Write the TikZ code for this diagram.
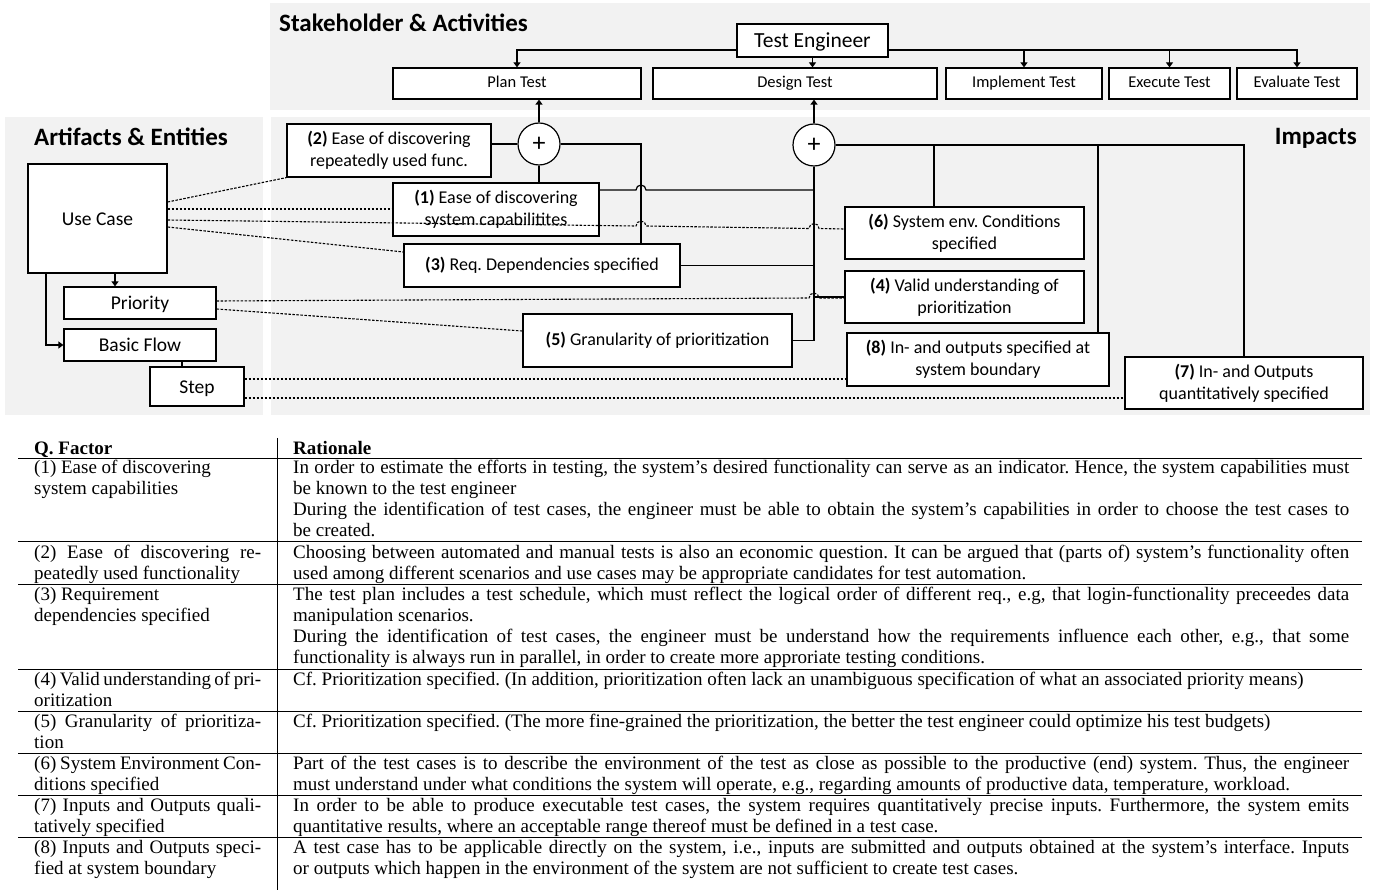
\documentclass[tikz,border=0pt]{standalone}
\usepackage{fontspec}
\setmainfont{Liberation Serif}
\newfontfamily\calibri{Carlito}
\usetikzlibrary{arrows.meta}

\definecolor{panelgray}{HTML}{F2F2F2}
\hyphenpenalty=10000
\frenchspacing

\begin{document}
\begin{tikzpicture}[
        x=1pt, y=-1pt,
        panel/.style={fill=panelgray, draw=none},
        title/.style={font=\calibri\bfseries\fontsize{25}{28}\selectfont, inner sep=0pt},
        box/.style={draw, line width=1.2pt, fill=white, align=center, inner sep=1pt},
        artbox/.style={box, text height=17pt, text depth=3pt, font=\calibri\fontsize{19.5}{22}\selectfont},
        actbox/.style={box, minimum height=31pt, text height=11pt, text depth=3pt, font=\calibri\fontsize{16.5}{20}\selectfont},
        impbox/.style={box, font=\calibri\fontsize{18}{22}\selectfont},
        plus/.style={circle, draw, line width=1.2pt, fill=white, minimum size=42pt, inner sep=0pt, font=\calibri\fontsize{26}{26}\selectfont},
        conn/.style={line width=1.2pt},
        arr/.style={conn, -{Triangle[width=7pt,length=5pt]}},
        dotline/.style={line width=1.1pt, dash pattern=on 2.5pt off 1.5pt},
        hop/.style={start angle=180, end angle=0, radius=5pt},
        tabfont/.style={font=\fontsize{19}{21.3}\selectfont},
        cellA/.style={tabfont, anchor=base west, inner sep=0pt, text width=227pt, align=justify},
        cellB/.style={tabfont, anchor=base west, inner sep=0pt, text width=1056pt, align=justify},
        rule/.style={line width=0.8pt}
    ]
        \useasboundingbox (0,0) rectangle (1374,890);

        % background panels
        \fill[panel] (270,3) rectangle (1370,110);
        \fill[panel] (5,117) rectangle (263,415);
        \fill[panel] (271,117) rectangle (1370,415);

        \node[title, anchor=west] (tstake) at (279,23) {Stakeholder \& Activities};
        \node[title] (tart) at (131,137) {Artifacts \& Entities};
        \node[title, anchor=east] (timp) at (1357,138) {Impacts};

        % stakeholder and activities
        \node[box, minimum width=151pt, minimum height=33pt, text height=18pt, text depth=3pt, font=\calibri\fontsize{21.5}{24}\selectfont] (eng) at (812.5,40.5) {Test Engineer};
        \node[actbox, minimum width=248pt] (plan) at (517,83.5) {Plan Test};
        \node[actbox, minimum width=284pt] (design) at (795,83.5) {Design Test};
        \node[actbox, minimum width=156pt] (impl) at (1024,83.5) {Implement Test};
        \node[actbox, minimum width=121pt] (exec) at (1169.5,83.5) {Execute Test};
        \node[actbox, minimum width=120pt] (eval) at (1297,83.5) {Evaluate Test};

        \draw[arr] (eng.west |- 0,50) -| (plan.north);
        \draw[arr] (eng.east |- 0,50) -| (eval.north);
        \draw[arr] (impl.north |- 0,50) -- (impl.north);
        \draw[arr] (exec.north |- 0,50) -- (exec.north);
        \draw[arr] (eng.south) -- (eng.south |- design.north);

        % artifacts
        \node[artbox, minimum width=139pt, minimum height=109pt] (uc) at (97.5,218.5) {Use Case};
        \node[artbox, minimum width=152pt, minimum height=32pt] (prio) at (140,303) {Priority};
        \node[artbox, minimum width=152pt, minimum height=32pt] (flow) at (140,345) {Basic Flow};
        \node[artbox, minimum width=94pt, minimum height=39pt] (step) at (197,386.5) {Step};

        \draw[arr] (uc.south -| 115,0) -- (prio.north -| 115,0);
        \draw[arr] (uc.south -| 46,0) |- (flow.west);
        \draw[conn] (flow.south -| 182,0) -- (step.north -| 182,0);

        % impacts
        \node[impbox, minimum width=204pt, minimum height=53pt] (q2) at (389,150.5) {\textbf{(2)} Ease of discovering\\repeatedly used func.};
        \node[impbox, minimum width=206pt, minimum height=53pt] (q1) at (496,209.5) {\textbf{(1)} Ease of discovering\\system capabilitites};
        \node[impbox, minimum width=276pt, minimum height=43pt] (q3) at (542,265.5) {\textbf{(3)} Req. Dependencies specified};
        \node[impbox, minimum width=269pt, minimum height=53pt] (q5) at (657.5,340.5) {\textbf{(5)} Granularity of prioritization};
        \node[impbox, minimum width=239pt, minimum height=52pt] (q6) at (964.5,233) {\textbf{(6)} System env. Conditions\\specified};
        \node[impbox, minimum width=239pt, minimum height=52pt] (q4) at (964.5,297) {\textbf{(4)} Valid understanding of\\prioritization};
        \node[impbox, minimum width=262pt, minimum height=53pt] (q8) at (978,359.5) {\textbf{(8)} In- and outputs specified at\\system boundary};
        \node[impbox, minimum width=238pt, minimum height=52pt] (q7) at (1244,383) {\textbf{(7)} In- and Outputs\\quantitatively specified};

        \node[plus] (c1) at (539,144) {+};
        \node[plus] (c2) at (814,145) {+};

        \draw[arr] (c1.north) -- (c1.north |- plan.south);
        \draw[arr] (c2.north) -- (c2.north |- design.south);

        \draw[conn] (q2.east |- c1.west) -- (c1.west);
        \draw[conn] (c1.south) -- (c1.south |- q1.north);
        \draw[conn] (c1.east) -| (q3.north -| 641,0);
        \draw[conn] (q1.east |- 0,190) -- (636,190) arc[hop] -- (c2.south |- 0,190);
        \draw[conn] (c2.south) |- (q5.east);
        \draw[conn] (q3.east) -- (q3.east -| c2.south);
        \draw[conn] (q4.west) -- (q4.west -| c2.south);
        \draw[conn] (c2.east) -| (q7.north);
        \draw[conn] (q6.north -| 934,0) -- (934,145);
        \draw[conn] (q8.north -| 1098,0) -- (1098,145);

        % trace links
        \draw[dotline] (uc.east |- 0,202) -- (q2.south west);
        \draw[dotline] (uc.east |- 0,209) -- (q1.west |- 0,209);
        \draw[dotline] (uc.east |- 0,220) -- (636,226) arc[hop] -- (809,228.5) arc[hop] -- (q6.west |- 0,229);
        \draw[dotline] (uc.east |- 0,227) -- (q3.west |- 0,252);
        \draw[dotline] (prio.east |- 0,301) -- (809,298) arc[hop] -- (q4.west |- 0,298);
        \draw[dotline] (prio.east |- 0,309) -- (q5.west |- 0,331);
        \draw[dotline] (step.east |- 0,379) -- (q8.west |- 0,379);
        \draw[dotline] (step.east |- 0,398) -- (q7.west |- 0,398);

        % table
        \draw[rule] (277,438) -- (277,890);
        \foreach \y in {458,541,584,669,711,753,795,837}
            \draw[rule] (18,\y) -- (1362,\y);

        \node[cellA] (h1) at (34,454) {\textbf{Q. Factor}};
        \node[cellB] (h2) at (293,454) {\textbf{Rationale}};

        \node[cellA] (f1) at (34,473) {(1) Ease of discovering\newline system capabilities};
        \node[cellB] (r1) at (293,473) {In order to estimate the efforts in testing, the system's desired functionality can serve as an indicator. Hence, the system capabilities must\linebreak be known to the test engineer\newline During the identification of test cases, the engineer must be able to obtain the system's capabilities in order to choose the test cases to\linebreak be created.};

        \node[cellA] (f2) at (34,558) {(2) Ease of discovering re-\linebreak peatedly used functionality};
        \node[cellB] (r2) at (293,558) {Choosing between automated and manual tests is also an economic question. It can be argued that (parts of) system's functionality often\linebreak used among different scenarios and use cases may be appropriate candidates for test automation.};

        \node[cellA] (f3) at (34,600) {(3) Requirement\newline dependencies specified};
        \node[cellB] (r3) at (293,600) {The test plan includes a test schedule, which must reflect the logical order of different req., e.g, that login-functionality preceedes data\linebreak manipulation scenarios.\newline During the identification of test cases, the engineer must be understand how the requirements influence each other, e.g., that some\linebreak functionality is always run in parallel, in order to create more approriate testing conditions.};

        \node[cellA] (f4) at (34,685) {(4) Valid understanding of pri-\linebreak oritization};
        \node[cellB] (r4) at (293,685) {Cf. Prioritization specified. (In addition, prioritization often lack an unambiguous specification of what an associated priority means)};

        \node[cellA] (f5) at (34,727) {(5) Granularity of prioritiza-\linebreak tion};
        \node[cellB] (r5) at (293,727) {Cf. Prioritization specified. (The more fine-grained the prioritization, the better the test engineer could optimize his test budgets)};

        \node[cellA] (f6) at (34,769) {(6) System Environment Con-\linebreak ditions specified};
        \node[cellB] (r6) at (293,769) {Part of the test cases is to describe the environment of the test as close as possible to the productive (end) system. Thus, the engineer\linebreak must understand under what conditions the system will operate, e.g., regarding amounts of productive data, temperature, workload.};

        \node[cellA] (f7) at (34,811) {(7) Inputs and Outputs quali-\linebreak tatively specified};
        \node[cellB] (r7) at (293,811) {In order to be able to produce executable test cases, the system requires quantitatively precise inputs. Furthermore, the system emits\linebreak quantitative results, where an acceptable range thereof must be defined in a test case.};

        \node[cellA] (f8) at (34,853) {(8) Inputs and Outputs speci-\linebreak fied at system boundary};
        \node[cellB] (r8) at (293,853) {A test case has to be applicable directly on the system, i.e., inputs are submitted and outputs obtained at the system's interface. Inputs\linebreak or outputs which happen in the environment of the system are not sufficient to create test cases.};
    \end{tikzpicture}
\end{document}
